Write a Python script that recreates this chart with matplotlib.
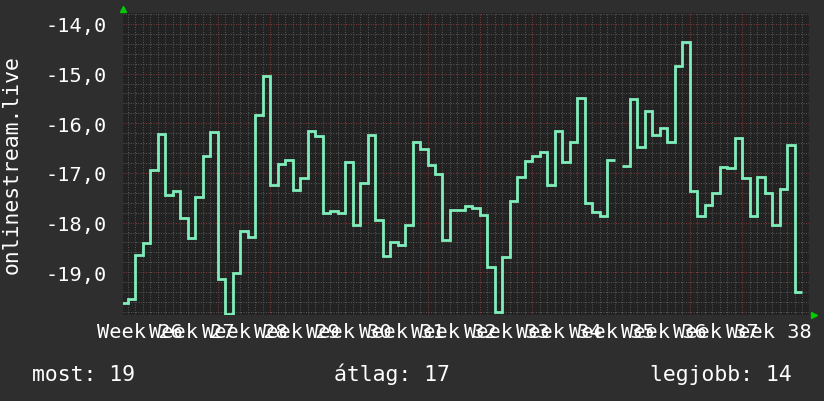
import numpy as np
import matplotlib
matplotlib.use('Agg')
import matplotlib.pyplot as plt
from matplotlib.ticker import FuncFormatter
import matplotlib.transforms as mtransforms

# daily values (rank shown negated), one per day, nan = missing day
values = [
    -19.62, -19.53, -18.65, -18.41, -16.95, -16.21, -17.45, -17.36, -17.90, -18.31,
    -17.48, -16.65, -16.17, -19.14, -19.83, -19.02, -18.16, -18.28, -15.83, -15.04,
    -17.24, -16.82, -16.73, -17.34, -17.10, -16.15, -16.25, -17.81, -17.77, -17.81,
    -16.77, -18.04, -17.20, -16.24, -17.95, -18.67, -18.39, -18.45, -18.04, -16.38,
    -16.51, -16.85, -17.02, -18.35, -17.74, -17.74, -17.67, -17.70, -17.84, -18.89,
    -19.80, -18.69, -17.57, -17.08, -16.75, -16.65, -16.57, -17.24, -16.15, -16.77,
    -16.37, -15.49, -17.61, -17.79, -17.86, -16.73, np.nan, -16.86, -15.51, -16.47,
    -15.75, -16.23, -16.10, -16.37, -14.84, -14.36, -17.36, -17.86, -17.64, -17.40,
    -16.89, -16.91, -16.29, -17.10, -17.86, -17.08, -17.40, -18.04, -17.32, -16.43,
    -19.39,
]
week_numbers = list(range(26, 39))
y_major = [-19, -18, -17, -16, -15, -14]
legend_items = [("most", 19), ("átlag", 17), ("legjobb", 14)]
y_title = "onlinestream.live"

bg = '#2e2e2e'
plot_bg = '#222222'
line_col = '#80eebb'
font = 'DejaVu Sans Mono'
fs = 14.6
fs_big = 15.4

fig = plt.figure(figsize=(8.24, 4.02), dpi=100, facecolor=bg)
ax = fig.add_axes([123.5 / 824, 1 - 315.5 / 402, 686 / 824, 301.5 / 402])
ax.set_facecolor(plot_bg)

edges = np.arange(-1, len(values))
ax.stairs(values, edges, color=line_col, linewidth=2.0, baseline=None, zorder=3)

ax.set_xlim(-0.59, 91.0)
ax.set_ylim(-19.85, -13.78)

# grid: days / week starts, 0.2 steps / whole units
week_starts = [5 + 7 * k for k in range(len(week_numbers))]
ax.set_xticks(week_starts)
ax.set_xticklabels([])
ax.set_xticks(np.arange(0, 92), minor=True)
ax.set_yticks(y_major)
ax.set_yticks(np.arange(-19.8, -13.7, 0.2), minor=True)
ax.yaxis.set_major_formatter(FuncFormatter(lambda v, p: f"{v:.1f}".replace('.', ',')))

ax.grid(which='minor', color='#555555', linewidth=0.72, linestyle=(0, (1, 1.5)), zorder=1)
ax.grid(which='major', color='#803838', linewidth=0.72, linestyle=(0, (1, 1.5)), zorder=2)
ax.set_axisbelow(True)

ax.tick_params(which='both', length=0)
ax.tick_params(axis='y', pad=12, labelcolor='white', labelsize=fs)
for lab in ax.get_yticklabels():
    lab.set_fontfamily(font)

for s in ax.spines.values():
    s.set_visible(False)

# week labels
trans = mtransforms.blended_transform_factory(ax.transData, ax.transAxes)
for ws, wn in zip(week_starts, week_numbers):
    ax.text(ws - 3.45, -0.0746, f"Week {wn}", transform=trans, ha='center',
            va='baseline', color='white', fontsize=fs, fontfamily=font, clip_on=False)

# axis arrows
ax.plot([0], [1.012], marker='^', color='#00cc00', markersize=5, transform=ax.transAxes,
        clip_on=False, zorder=5)
ax.plot([1.0066], [0], marker='>', color='#00cc00', markersize=5, transform=ax.transAxes,
        clip_on=False, zorder=5)

fig.text(12 / 824, 1 - 164.5 / 402, y_title, rotation=90, ha='center', va='center',
         color='white', fontsize=fs_big, fontfamily=font)

legend_x = [32 / 824, 334 / 824, 650 / 824]
for (name, val), lx in zip(legend_items, legend_x):
    fig.text(lx, 1 - 380.7 / 402, f"{name}: {val}", ha='left', va='baseline',
             color='white', fontsize=fs_big, fontfamily=font)

fig.savefig('out.png', dpi=100, facecolor=bg)
